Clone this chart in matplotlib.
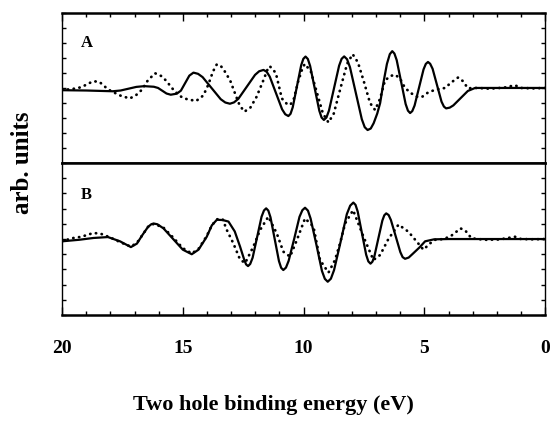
import matplotlib
matplotlib.use('Agg')
import matplotlib.pyplot as plt
from matplotlib.ticker import MultipleLocator

plt.rcParams['font.family'] = ['Liberation Serif', 'DejaVu Serif']
plt.rcParams['font.weight'] = 'bold'

# Panel A - solid curve (energy in eV, signal in arb. units)
a_solid_e = [20.0, 19.0, 17.9, 17.575, 17.25, 16.925, 16.6, 16.2, 16.025, 15.85, 15.675,
             15.5, 15.25, 15.08, 14.905, 14.73, 14.56,
             14.37, 14.18, 13.805, 13.43, 13.24, 13.05,
             12.88, 12.70, 12.355, 12.01, 11.84, 11.66,
             11.53, 11.40, 11.145, 10.89, 10.76, 10.63,
             10.54, 10.45, 10.275, 10.10, 10.01, 9.92,
             9.825, 9.73, 9.54, 9.35, 9.255, 9.16,
             9.055, 8.95, 8.74, 8.53, 8.425, 8.32,
             8.20, 8.08, 7.835, 7.59, 7.47, 7.35,
             7.22, 7.1, 6.95, 6.83, 6.7, 6.55, 6.43, 6.33,
             6.24, 6.145, 5.96, 5.775, 5.68, 5.59,
             5.50, 5.405, 5.22, 5.035, 4.94, 4.85,
             4.76, 4.66, 4.475, 4.29, 4.19, 4.1,
             3.95, 3.8, 3.5, 3.2, 2.9, 1.5, 0.0]
a_solid_v = [4.85, 4.83, 4.78, 4.83, 4.95, 5.07, 5.12, 5.08, 5.00, 4.815, 4.63,
             4.55, 4.62, 4.82, 5.32, 5.82, 6.02,
             5.94, 5.72, 4.985, 4.25, 4.03, 3.95,
             4.04, 4.28, 5.075, 5.87, 6.11, 6.2,
             6.08, 5.75, 4.665, 3.58, 3.25, 3.13,
             3.28, 3.71, 5.11, 6.51, 6.94, 7.09,
             6.93, 6.47, 4.98, 3.49, 3.03, 2.87,
             3.03, 3.49, 4.985, 6.48, 6.94, 7.1,
             6.91, 6.38, 4.65, 2.92, 2.39, 2.2,
             2.3, 2.65, 3.3, 4.0, 5.3, 6.6, 7.25, 7.45,
             7.29, 6.85, 5.39, 3.93, 3.49, 3.33,
             3.46, 3.83, 5.03, 6.23, 6.60, 6.73,
             6.61, 6.28, 5.185, 4.09, 3.76, 3.64,
             3.69, 3.84, 4.32, 4.8, 5.0, 5.0, 5.0]

# Panel A - dotted curve
a_dot_e = [20.0, 19.6, 19.2, 18.9, 18.7, 18.45, 18.2, 18.0, 17.6, 17.2, 16.95, 16.7,
           16.45, 16.15, 15.9, 15.7, 15.5, 15.35, 15.1, 14.95, 14.45, 14.15, 13.95,
           13.75, 13.6, 13.46, 13.3, 13.04, 12.84, 12.65, 12.45, 12.2, 11.95, 11.66,
           11.5, 11.4, 11.15, 10.9, 10.7, 10.55, 10.4, 10.23, 10.05, 9.95, 9.7, 9.45,
           9.2, 8.97, 8.75, 8.47, 8.2, 7.97, 7.75, 7.5, 7.25, 7.04, 6.83, 6.63, 6.4,
           6.2, 6.0, 5.8, 5.55, 5.3, 5.1, 4.83, 4.5, 4.14, 3.9, 3.6, 3.4, 3.2, 2.8,
           2.3, 1.7, 1.25, 1.0, 0.5, 0.0]
a_dot_v = [4.87, 4.92, 5.05, 5.3, 5.45, 5.4, 5.05, 4.82, 4.5, 4.3, 4.5, 4.87,
           5.5, 5.98, 5.8, 5.5, 5.1, 4.8, 4.45, 4.3, 4.13, 4.5, 5.2,
           6.1, 6.55, 6.53, 6.2, 5.5, 4.64, 3.85, 3.42, 3.7, 4.4, 5.53,
           6.2, 6.45, 6.0, 4.3, 3.95, 3.87, 4.3, 5.4, 6.3, 6.6, 6.1, 4.7,
           3.3, 2.7, 3.3, 5.0, 6.6, 7.25, 6.7, 5.4, 4.0, 3.53, 4.3, 5.5, 5.8,
           5.88, 5.6, 5.0, 4.65, 4.42, 4.4, 4.72, 4.9, 5.0, 5.35, 5.7, 5.45, 4.98, 5.0,
           4.95, 5.02, 5.18, 5.0, 4.97, 5.0]

# Panel B - solid curve
b_solid_e = [20.0, 19.3, 18.7, 18.1, 17.6, 17.15, 16.9, 16.68, 16.44, 16.3, 16.2, 16.05,
             15.8, 15.4, 15.0, 14.63, 14.35, 14.01, 13.8, 13.59, 13.35, 13.11, 12.85,
             12.63, 12.45, 12.38, 12.3,
             12.21, 12.11, 11.925, 11.74, 11.64, 11.55,
             11.46, 11.37, 11.195, 11.02, 10.93, 10.84,
             10.73, 10.62, 10.39, 10.17, 10.05, 9.94,
             9.82, 9.71, 9.47, 9.24, 9.12, 9.0,
             8.87, 8.74, 8.47, 8.21, 8.07, 7.94,
             7.85, 7.76, 7.585, 7.41, 7.32, 7.23,
             7.15, 7.07, 6.905, 6.74, 6.66, 6.58,
             6.48, 6.385, 6.19, 5.995, 5.90, 5.8,
             5.65, 5.5, 5.2, 4.97, 4.6, 4.0, 0.0]
b_solid_v = [4.85, 4.95, 5.07, 5.13, 4.85, 4.47, 4.7, 5.25, 5.8, 5.98, 6.02, 5.97,
             5.7, 5.0, 4.3, 4.0, 4.3, 5.15, 5.9, 6.27, 6.25, 6.15, 5.5,
             4.5, 3.6, 3.33, 3.22,
             3.36, 3.77, 5.12, 6.47, 6.88, 7.02,
             6.87, 6.43, 4.99, 3.55, 3.11, 2.96,
             3.12, 3.56, 5.01, 6.46, 6.90, 7.06,
             6.87, 6.35, 4.63, 2.90, 2.38, 2.19,
             2.39, 2.95, 4.80, 6.64, 7.20, 7.4,
             7.25, 6.81, 5.39, 3.97, 3.53, 3.38,
             3.51, 3.86, 5.04, 6.21, 6.56, 6.69,
             6.58, 6.25, 5.2, 4.14, 3.81, 3.7,
             3.78, 4.0, 4.45, 4.85, 4.98, 5.0, 5.0]

# Panel B - dotted curve
b_dot_e = [20.0, 19.6, 19.2, 18.7, 18.4, 18.0, 17.6, 17.15, 16.9, 16.68, 16.44, 16.2,
           15.8, 15.4, 15.0, 14.63, 14.35, 14.01, 13.8, 13.59, 13.35, 13.18, 12.91,
           12.63, 12.42, 12.08, 11.8, 11.46, 11.11, 10.84, 10.56, 10.28, 9.94, 9.59,
           9.32, 8.97, 8.7, 8.49, 8.28, 7.95, 7.52, 7.11, 6.83, 6.49, 6.07, 5.66,
           5.31, 5.04, 4.76, 4.55, 4.2, 3.9, 3.5, 3.3, 3.05, 2.5, 1.9, 1.25, 1.0,
           0.5, 0.0]
b_dot_v = [4.85, 5.05, 5.15, 5.4, 5.35, 5.1, 4.8, 4.5, 4.75, 5.25, 5.8, 6.0,
           5.75, 5.1, 4.4, 4.05, 4.35, 5.2, 5.9, 6.3, 6.3, 5.6, 4.72,
           3.65, 3.42, 4.5, 5.6, 6.47, 5.37, 4.17, 3.84, 4.93, 6.36, 5.81,
           3.62, 2.79, 3.62, 4.72, 6.03, 6.9, 5.15, 3.62, 3.95, 5.0, 5.95, 5.48,
           4.82, 4.3, 4.72, 4.95, 5.0, 5.2, 5.7, 5.55, 5.05, 4.95, 4.97, 5.15, 5.0,
           4.98, 5.0]

x_tick_labels = ['20', '15', '10', '5', '0']

fig = plt.figure(figsize=(5.54, 4.28), dpi=100)
ax_a = fig.add_axes([0.112, 0.619, 0.872, 0.351])
ax_b = fig.add_axes([0.112, 0.264, 0.872, 0.355])

dot_style = dict(color='black', linewidth=2.0, linestyle=(0, (0.1, 2.0)),
                 dash_capstyle='round')
solid_style = dict(color='black', linewidth=1.6, solid_joinstyle='round')

ax_a.plot(a_dot_e, a_dot_v, **dot_style)
ax_a.plot(a_solid_e, a_solid_v, **solid_style)
ax_b.plot(b_dot_e, b_dot_v, **dot_style)
ax_b.plot(b_solid_e, b_solid_v, **solid_style)

for ax in (ax_a, ax_b):
    ax.set_xlim(20, 0)
    ax.set_ylim(0, 10)
    ax.xaxis.set_major_locator(MultipleLocator(5))
    ax.xaxis.set_minor_locator(MultipleLocator(1))
    ax.yaxis.set_major_locator(MultipleLocator(1))
    ax.tick_params(axis='y', which='major', direction='in', left=True, right=True,
                   labelleft=False, length=3, width=1)
    ax.tick_params(axis='x', which='both', direction='in', width=1)
    ax.tick_params(axis='x', which='major', length=6)
    ax.tick_params(axis='x', which='minor', length=3)
    ax.spines['left'].set_linewidth(1.0)
    ax.spines['right'].set_linewidth(1.0)
    ax.spines['top'].set_linewidth(1.8)
    ax.spines['bottom'].set_linewidth(1.8)

ax_a.tick_params(axis='x', which='both', top=True, bottom=False,
                 labelbottom=False, labeltop=False)
ax_b.tick_params(axis='x', which='both', top=False, bottom=True,
                 labelbottom=True, pad=18, labelsize=14)
ax_b.set_xticks([20, 15, 10, 5, 0])
ax_b.set_xticklabels(x_tick_labels, fontweight='bold')

ax_a.text(0.038, 0.80, 'A', transform=ax_a.transAxes, fontsize=12,
          fontweight='bold', va='center', ha='left')
ax_b.text(0.038, 0.79, 'B', transform=ax_b.transAxes, fontsize=12,
          fontweight='bold', va='center', ha='left')

fig.text(0.493, 0.054, 'Two hole binding energy (eV)', fontsize=16,
         fontweight='bold', ha='center', va='center')
fig.text(0.040, 0.619, 'arb. units', fontsize=18, fontweight='bold',
         rotation=90, ha='center', va='center')

fig.savefig('out.png', dpi=100)
